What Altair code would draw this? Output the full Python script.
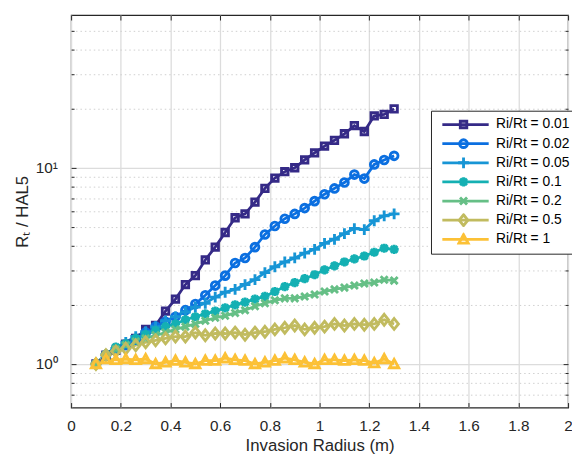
import altair as alt
import pandas as pd

x_vals = [0.10, 0.14, 0.18, 0.22, 0.26, 0.30, 0.34, 0.38, 0.42, 0.46, 0.50,
          0.54, 0.58, 0.62, 0.66, 0.70, 0.74, 0.78, 0.82, 0.86, 0.90, 0.94,
          0.98, 1.02, 1.06, 1.10, 1.14, 1.18, 1.22, 1.26, 1.30]

series_names = ["Ri/Rt = 0.01", "Ri/Rt = 0.02", "Ri/Rt = 0.05", "Ri/Rt = 0.1",
                "Ri/Rt = 0.2", "Ri/Rt = 0.5", "Ri/Rt = 1"]

r001 = [1.00, 1.11, 1.175, 1.26, 1.35, 1.50, 1.57, 1.86, 2.14, 2.54, 2.82,
        3.39, 3.94, 4.68, 5.56, 5.82, 6.68, 7.85, 8.86, 9.55, 10.0, 10.96,
        11.9, 12.9, 13.8, 14.9, 16.4, 15.3, 18.4, 18.7, 19.95]
r002 = [1.00, 1.10, 1.175, 1.245, 1.33, 1.445, 1.55, 1.64, 1.74, 1.88, 2.02,
        2.24, 2.51, 2.82, 3.27, 3.47, 3.94, 4.57, 5.05, 5.50, 5.82, 6.23,
        6.76, 7.33, 7.85, 8.41, 9.23, 8.81, 10.4, 10.96, 11.5]
r005 = [1.00, 1.12, 1.20, 1.29, 1.38, 1.46, 1.55, 1.66, 1.74, 1.84, 1.95,
        2.04, 2.19, 2.32, 2.40, 2.54, 2.69, 2.92, 3.13, 3.31, 3.47, 3.67,
        3.84, 4.12, 4.32, 4.62, 4.90, 4.84, 5.37, 5.69, 5.82]
r01 = [1.00, 1.12, 1.22, 1.27, 1.35, 1.41, 1.48, 1.55, 1.60, 1.68, 1.74,
       1.80, 1.86, 1.93, 2.00, 2.065, 2.14, 2.21, 2.34, 2.48, 2.60, 2.72,
       2.85, 3.02, 3.16, 3.31, 3.43, 3.55, 3.71, 3.89, 3.84]
r02 = [1.00, 1.11, 1.19, 1.245, 1.30, 1.35, 1.40, 1.445, 1.50, 1.55, 1.60,
       1.66, 1.72, 1.76, 1.82, 1.88, 1.97, 2.04, 2.11, 2.16, 2.16, 2.21,
       2.26, 2.34, 2.40, 2.45, 2.51, 2.57, 2.60, 2.69, 2.66]
r05 = [1.00, 1.11, 1.16, 1.20, 1.245, 1.29, 1.32, 1.35, 1.38, 1.38, 1.445,
       1.40, 1.43, 1.43, 1.445, 1.41, 1.445, 1.46, 1.50, 1.53, 1.57, 1.50,
       1.53, 1.55, 1.60, 1.57, 1.60, 1.585, 1.60, 1.68, 1.60]
r1 = [1.00, 1.06, 1.05, 1.06, 1.05, 1.06, 1.00, 1.02, 1.04, 1.02, 1.00,
      1.04, 1.04, 1.07, 1.05, 1.04, 1.00, 1.02, 1.04, 1.07, 1.05, 1.02,
      1.00, 1.05, 1.05, 1.04, 1.05, 1.04, 1.01, 1.06, 1.00]

colors = ["#352a87", "#0b6fe0", "#1795d5", "#14b0b3", "#66bf86", "#c1bb5f", "#fcc136"]
shapes = [
    "M-0.6,-0.6H0.6V0.6H-0.6Z",
    "M0.72,0A0.72,0.72,0,1,1,-0.72,0A0.72,0.72,0,1,1,0.72,0Z",
    "M-1,0H1M0,-1V1",
    "M-0.85,0H0.85M0,-0.85V0.85M-0.62,-0.62L0.62,0.62M-0.62,0.62L0.62,-0.62",
    "M-0.65,-0.65L0.65,0.65M-0.65,0.65L0.65,-0.65",
    "M0,-1.0L0.8,0L0,1.0L-0.8,0Z",
    "M0,-0.85L0.85,0.7H-0.85Z",
]

x_ticks = [0, 0.2, 0.4, 0.6, 0.8, 1.0, 1.2, 1.4, 1.6, 1.8, 2.0]
y_ticks = [0.7, 0.8, 0.9, 1, 2, 3, 4, 5, 6, 7, 8, 9, 10, 20, 30, 40, 50]

all_vals = [r001, r002, r005, r01, r02, r05, r1]
rows = []
for name, vals in zip(series_names, all_vals):
    for xv, yv in zip(x_vals, vals):
        rows.append({"x": xv, "v": yv, "s": name})
df = pd.DataFrame(rows)

W, H = 504, 398
FONT = "Liberation Sans"
DARK = "#262626"
major = "datum.value == 1 || datum.value == 10"

xscale = alt.Scale(domain=[0, 2], nice=False, zero=False)
yscale = alt.Scale(type="log", domain=[0.6, 60], nice=False)

base = alt.Chart(df)

LEG_X = 365
LEG_Y = 97

lines = base.mark_line(strokeWidth=2.8).encode(
    x=alt.X("x:Q", scale=xscale, axis=alt.Axis(
        title="Invasion Radius (m)", values=x_ticks, format="~g",
        grid=True, gridColor="#dcdcdc", gridWidth=1.3,
        ticks=False, tickSize=0, domain=False,
        labelFont=FONT, labelFontSize=15.5, labelColor=DARK, labelPadding=11,
        titleFont=FONT, titleFontSize=17, titleFontWeight="normal",
        titleColor=DARK, titlePadding=4, labelFlush=False)),
    y=alt.Y("v:Q", scale=yscale, axis=alt.Axis(
        title="Rₜ / HAL5", values=y_ticks,
        labelExpr="datum.value == 1 ? '10⁰' : (datum.value == 10 ? '10¹' : '')",
        grid=True,
        gridColor={"condition": {"test": major, "value": "#dcdcdc"}, "value": "#cfcfcf"},
        gridDash={"condition": {"test": major, "value": []}, "value": [1.5, 3]},
        gridWidth={"condition": {"test": major, "value": 1.3}, "value": 1},
        ticks=False, tickSize=0, domain=False,
        labelFont=FONT, labelFontSize=15.5, labelColor=DARK, labelPadding=14,
        titleFont=FONT, titleFontSize=17, titleFontWeight="normal",
        titleColor=DARK, titlePadding=4)),
    color=alt.Color("s:N", sort=series_names, scale=alt.Scale(range=colors),
                    legend=alt.Legend(
                        title=None, orient="none", legendX=LEG_X, legendY=LEG_Y,
                        symbolType="stroke", symbolSize=2209, symbolStrokeWidth=2.8,
                        symbolOffset=3, labelOffset=6, clipHeight=14,
                        labelFont=FONT, labelFontSize=14, labelColor="#000000",
                        padding=7, rowPadding=5.4,
                        fillColor="white", strokeColor=DARK)),
    detail="s:N",
)

points = base.mark_point(filled=False, size=120, strokeWidth=2.9, opacity=1).encode(
    x=alt.X("x:Q", scale=xscale, axis=None),
    y=alt.Y("v:Q", scale=yscale, axis=None),
    stroke=alt.Stroke("s:N", scale=alt.Scale(domain=series_names, range=colors),
                      legend=alt.Legend(
                          title=None, orient="none", legendX=LEG_X + 19,
                          legendY=LEG_Y, clipHeight=14,
                          symbolSize=120, symbolStrokeWidth=2.9,
                          labelExpr="''", labelFont=FONT, labelFontSize=14,
                          padding=7, rowPadding=5.4)),
    shape=alt.Shape("s:N", scale=alt.Scale(domain=series_names, range=shapes)),
)

tick_common = dict(labels=False, domain=False, grid=False, title=None,
                   tickColor=DARK, tickWidth=1)

ticksA = base.mark_point(opacity=0).encode(
    x=alt.X("x:Q", scale=xscale, axis=alt.Axis(
        orient="top", offset=-H, values=x_ticks, tickSize=5, **tick_common)),
    y=alt.Y("v:Q", scale=yscale, axis=alt.Axis(
        orient="right", offset=-W, values=y_ticks,
        tickSize={"condition": {"test": major, "value": 5}, "value": 3},
        **tick_common)),
)
ticksB = base.mark_point(opacity=0).encode(
    x=alt.X("x:Q", scale=xscale, axis=alt.Axis(
        orient="bottom", offset=-H, values=x_ticks, tickSize=5, **tick_common)),
    y=alt.Y("v:Q", scale=yscale, axis=alt.Axis(
        orient="left", offset=-W, values=y_ticks,
        tickSize={"condition": {"test": major, "value": 5}, "value": 3},
        **tick_common)),
)

chart = alt.layer(lines, points, ticksA, ticksB).resolve_axis(
    x="independent", y="independent"
).properties(
    width=W, height=H,
    autosize=alt.AutoSizeParams(type="none"),
    padding={"left": 64, "top": 4, "right": 4, "bottom": 46},
).configure_view(stroke=DARK, strokeWidth=1.2)

chart.save("out.html", embed_options={"renderer": "svg", "actions": False})
